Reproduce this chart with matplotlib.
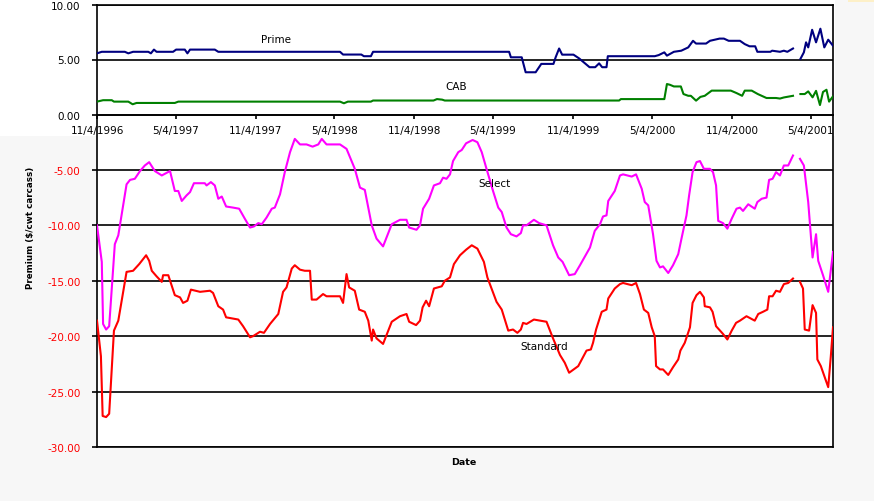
import numpy as np
import pandas as pd
import matplotlib
matplotlib.use("Agg")
import matplotlib.pyplot as plt
from matplotlib.patches import Rectangle

# ---------------- data ----------------
START = "1996-11-04"
END_DAY = 1693
tick_labels = ["11/4/1996", "5/4/1997", "11/4/1997", "5/4/1998", "11/4/1998",
               "5/4/1999", "11/4/1999", "5/4/2000", "11/4/2000", "5/4/2001"]

# days after 11/4/1996 ; nan marks the gap in the series
prime_days = [0, 11, 64, 72, 83, 118, 124, 131, 137, 175, 182, 202, 208, 214, 271, 279,
              559, 566, 608, 614, 630, 635, 948, 952, 977, 986, 1009, 1022, 1050, 1055,
              1063, 1070, 1096, 1109, 1133, 1146, 1155, 1162, 1172, 1175, 1283, 1292,
              1305, 1311, 1327, 1344, 1360, 1371, 1378, 1401, 1410, 1432, 1442, 1453,
              1479, 1490, 1501, 1514, 1519, 1549, 1553, 1571, 1580, 1588, 1601, 1608,
              1618, 1626, 1631, 1636, 1645, 1654, 1664, 1673, 1682, 1693]
prime_vals = [5.56, 5.7, 5.7, 5.56, 5.7, 5.7, 5.56, 5.9, 5.7, 5.7, 5.9, 5.9, 5.56, 5.9, 5.9, 5.7,
              5.7, 5.45, 5.45, 5.3, 5.3, 5.7, 5.7, 5.2, 5.2, 3.84, 3.84, 4.6, 4.6, 5.2,
              6.0, 5.44, 5.44, 5.1, 4.3, 4.3, 4.65, 4.3, 4.3, 5.3, 5.3, 5.4,
              5.65, 5.35, 5.7, 5.8, 6.1, 6.7, 6.45, 6.45, 6.7, 6.9, 6.9, 6.7,
              6.7, 6.4, 6.2, 6.2, 5.7, 5.7, 5.8, 5.7, 5.8, 5.7, 6.0, np.nan,
              5.05, 5.65, 6.56, 6.1, 7.7, 6.56, 7.8, 6.1, 6.8, 6.25]

cab_days = [0, 14, 34, 39, 72, 82, 91, 179, 187, 559, 568, 577, 630, 635, 774, 782, 794,
            800, 1201, 1205, 1305, 1311, 1318, 1327, 1343, 1349, 1360, 1366, 1378, 1388,
            1398, 1414, 1458, 1471, 1484, 1490, 1506, 1520, 1540, 1562, 1571, 1580, 1601,
            1608, 1618, 1628, 1636, 1646, 1654, 1663, 1670, 1678, 1684, 1693]
cab_vals = [1.17, 1.3, 1.3, 1.17, 1.17, 0.93, 1.05, 1.05, 1.17, 1.17, 1.02, 1.17, 1.17, 1.27,
            1.27, 1.4, 1.35, 1.27, 1.27, 1.4, 1.4, 2.77, 2.7, 2.55, 2.55, 1.86, 1.7, 1.7,
            1.26, 1.6, 1.7, 2.17, 2.17, 1.95, 1.7, 2.17, 2.17, 1.86, 1.5, 1.5, 1.45, 1.55,
            1.7, np.nan, 1.86, 1.86, 2.1, 1.56, 2.15, 0.86, 2.05, 2.25, 1.17, 1.65]

select_days = [0, 11, 14, 21, 28, 41, 49, 68, 76, 87, 99, 110, 120, 133, 149, 168, 179, 187,
               195, 206, 214, 223, 237, 248, 252, 262, 271, 279, 287, 297, 313, 327, 340,
               352, 361, 371, 379, 390, 402, 409, 421, 432, 444, 455, 467, 482, 496, 509,
               517, 528, 559, 574, 593, 605, 616, 632, 643, 658, 678, 697, 712, 718, 735,
               743, 750, 764, 775, 789, 796, 804, 812, 819, 831, 839, 849, 864, 875, 885,
               896, 911, 923, 931, 942, 952, 965, 975, 980, 988, 1005, 1017, 1034, 1049,
               1061, 1071, 1086, 1099, 1111, 1134, 1145, 1157, 1164, 1172, 1176, 1191,
               1203, 1210, 1230, 1240, 1253, 1260, 1268, 1279, 1287, 1295, 1302, 1314,
               1325, 1337, 1345, 1356, 1362, 1370, 1379, 1387, 1396, 1410, 1417, 1424,
               1429, 1440, 1450, 1460, 1471, 1479, 1486, 1498, 1513, 1519, 1529, 1540,
               1546, 1554, 1562, 1571, 1580, 1590, 1601, 1608, 1617, 1626, 1636, 1646,
               1654, 1659, 1670, 1682, 1693]
select_vals = [-10.0, -13.3, -18.9, -19.4, -19.1, -11.7, -10.9, -6.3, -5.9, -5.8, -5.1, -4.6,
               -4.3, -5.1, -5.5, -5.1, -6.9, -6.9, -7.8, -7.3, -7.0, -6.2, -6.2, -6.2, -6.4,
               -6.1, -6.4, -7.6, -7.4, -8.3, -8.4, -8.5, -9.4, -10.2, -10.1, -9.8, -9.9,
               -9.3, -8.5, -8.4, -7.2, -5.2, -3.4, -2.2, -2.7, -2.7, -2.9, -2.7, -2.2, -2.7,
               -2.7, -3.1, -4.9, -6.6, -6.8, -10.0, -11.2, -11.9, -9.9, -9.5, -9.5, -10.2,
               -10.4, -10.0, -8.5, -7.6, -6.4, -6.2, -5.7, -5.8, -5.4, -4.2, -3.4, -3.2,
               -2.6, -2.3, -2.5, -3.4, -4.9, -6.9, -8.4, -8.8, -10.2, -10.8, -11.0, -10.7,
               -10.0, -10.0, -9.5, -9.8, -10.0, -11.8, -12.9, -13.3, -14.5, -14.4, -13.6,
               -12.0, -10.5, -9.9, -9.2, -9.1, -7.8, -6.9, -5.5, -5.4, -5.6, -5.4, -6.7,
               -7.9, -8.2, -10.8, -13.2, -13.8, -13.7, -14.3, -13.6, -12.6, -11.1, -9.1,
               -7.3, -5.2, -4.3, -4.2, -4.9, -4.9, -5.2, -6.4, -9.6, -9.8, -10.3, -9.4,
               -8.5, -8.4, -8.7, -8.1, -8.5, -7.9, -7.6, -7.5, -5.9, -5.8, -5.2, -5.5,
               -4.6, -4.6, -3.7, np.nan, -4.0, -4.6, -7.9, -12.9, -10.8, -13.2, -14.5,
               -16.0, -12.4]

standard_days = [0, 9, 13, 21, 28, 39, 49, 68, 83, 97, 113, 120, 126, 137, 149, 152, 164, 179,
                 191, 198, 208, 216, 237, 260, 267, 279, 290, 297, 325, 336, 352, 359, 375,
                 384, 398, 417, 428, 436, 448, 455, 467, 478, 490, 494, 505, 520, 528, 559,
                 566, 574, 580, 593, 603, 616, 624, 632, 635, 643, 658, 678, 697, 712, 718,
                 734, 743, 749, 757, 764, 775, 793, 800, 812, 821, 835, 849, 862, 875, 890,
                 898, 919, 931, 946, 957, 967, 975, 980, 988, 1005, 1019, 1034, 1049, 1065,
                 1076, 1086, 1107, 1126, 1136, 1141, 1148, 1161, 1172, 1176, 1191, 1203,
                 1210, 1230, 1240, 1249, 1258, 1268, 1276, 1283, 1286, 1295, 1302, 1314,
                 1325, 1337, 1342, 1352, 1364, 1370, 1379, 1387, 1396, 1398, 1410, 1416,
                 1424, 1433, 1440, 1450, 1460, 1470, 1479, 1494, 1513, 1521, 1532, 1542,
                 1546, 1554, 1562, 1571, 1580, 1590, 1601, 1608, 1617, 1624, 1628, 1638,
                 1646, 1654, 1657, 1665, 1682, 1688, 1693]
standard_vals = [-18.6, -21.8, -27.2, -27.3, -27.0, -19.5, -18.6, -14.2, -14.1, -13.5, -12.7,
                 -13.2, -14.1, -14.6, -15.1, -14.5, -14.5, -16.3, -16.5, -17.0, -16.8, -15.8,
                 -16.0, -15.9, -16.1, -17.3, -17.6, -18.3, -18.5, -19.1, -20.1, -20.0, -19.6,
                 -19.7, -18.9, -18.0, -16.0, -15.6, -13.9, -13.6, -14.0, -14.1, -14.1, -16.7,
                 -16.7, -16.2, -16.4, -16.4, -17.0, -14.4, -15.6, -15.9, -17.6, -17.8, -18.6,
                 -20.4, -19.4, -20.2, -20.7, -18.7, -18.2, -18.0, -18.7, -19.0, -18.6, -17.4,
                 -16.8, -17.3, -15.7, -15.5, -15.0, -14.7, -13.5, -12.7, -12.2, -11.8, -12.1,
                 -13.3, -14.7, -16.9, -17.6, -19.5, -19.4, -19.7, -19.4, -18.8, -18.9, -18.5,
                 -18.6, -18.7, -20.2, -21.7, -22.4, -23.3, -22.7, -21.3, -21.2, -20.6, -19.4,
                 -17.8, -17.6, -16.6, -15.7, -15.3, -15.2, -15.4, -15.2, -16.2, -17.6, -17.9,
                 -19.2, -20.0, -22.7, -23.0, -23.0, -23.5, -22.8, -22.1, -21.3, -20.6, -19.2,
                 -17.0, -16.3, -16.0, -16.5, -17.3, -17.4, -17.8, -19.1, -19.5, -19.8, -20.3,
                 -19.5, -18.8, -18.6, -18.2, -18.6, -18.0, -17.8, -17.6, -16.4, -16.4, -15.9,
                 -16.0, -15.3, -15.2, -14.8, np.nan, -15.1, -15.7, -19.4, -19.5, -17.2, -17.9,
                 -22.1, -22.7, -24.6, -21.8, -19.2]

label_text = ["Prime", "CAB", "Select", "Standard"]
label_days = [412, 826, 915, 1028]
label_vals = [6.86, 2.56, -6.2, -20.9]

top_ticks = [0, 5, 10]
bottom_ticks = [-30, -25, -20, -15, -10, -5]

# ---------------- helpers ----------------
start = pd.Timestamp(START)


def to_dates(days):
    return start + pd.to_timedelta(np.asarray(days, dtype=float), unit="D")


tick_dates = pd.to_datetime(tick_labels, format="%m/%d/%Y")
xmin, xmax = start, start + pd.Timedelta(days=END_DAY)

W, H = 874, 502
FONT = "DejaVu Sans"
plt.rcParams["font.family"] = [FONT]

fig = plt.figure(figsize=(W / 100, H / 100), dpi=100, facecolor="#f7f7f7")

# white background of the upper chart picture
fig.patches.append(Rectangle((0, 1 - 137 / H), 835 / W, 137 / H, transform=fig.transFigure,
                             facecolor="white", edgecolor="none", zorder=-5))
# tiny yellow patch at top right
fig.patches.append(Rectangle((848 / W, 1 - 3 / H), 26 / W, 3 / H, transform=fig.transFigure,
                             facecolor="#fdf0c8", edgecolor="none", zorder=-5))

left = 97 / W
width = 736 / W
ax_b = fig.add_axes([left, 1 - 448 / H, width, 332.5 / H], zorder=1)
ax_t = fig.add_axes([left, 1 - 115.5 / H, width, 110 / H], zorder=2)

for ax in (ax_b, ax_t):
    ax.set_facecolor("white")
    ax.set_xlim(xmin, xmax)
    for s in ax.spines.values():
        s.set_color("black")
        s.set_linewidth(1.2)
    ax.yaxis.grid(True, color="black", linewidth=1.2)
    ax.set_axisbelow(True)

lw = 1.5
# bottom chart
ax_b.plot(to_dates(select_days), select_vals, color="#ff00ff", lw=lw, zorder=3)
ax_b.plot(to_dates(standard_days), standard_vals, color="#ff0000", lw=lw, zorder=3)
ax_b.set_ylim(-30, 0)
ax_b.set_yticks(bottom_ticks)
ax_b.set_yticklabels([f"{v:.2f}" for v in bottom_ticks], color="#ff0000", fontsize=7.5)
ax_b.tick_params(axis="y", direction="out", length=3.8, width=1.2, pad=8)
ax_b.set_xticks([])

# top chart
ax_t.plot(to_dates(prime_days), prime_vals, color="#000080", lw=lw, zorder=3)
ax_t.plot(to_dates(cab_days), cab_vals, color="#008000", lw=lw, zorder=3)
ax_t.set_ylim(0, 10)
ax_t.set_yticks(top_ticks)
ax_t.set_yticklabels([f"{v:.2f}" for v in top_ticks], color="black", fontsize=7.5)
ax_t.tick_params(axis="y", direction="out", length=3.8, width=1.2, pad=8)
ax_t.set_xticks(tick_dates)
ax_t.set_xticklabels(tick_labels, fontsize=7.5)
ax_t.tick_params(axis="x", direction="out", length=2.8, width=1.2, pad=5)

# series labels
for txt, d, v in zip(label_text, label_days, label_vals):
    ax = ax_t if v > 0 else ax_b
    ax.text(start + pd.Timedelta(days=d), v, txt, ha="center", va="center",
            fontsize=7.5, color="black", zorder=4)

fig.text(30 / W, 1 - 228 / H, "Premium ($/cwt carcass)", rotation=90, ha="center",
         va="center", fontsize=6.3, fontweight="bold")
fig.text(464 / W, 1 - 463 / H, "Date", ha="center", va="center", fontsize=6.8,
         fontweight="bold")

fig.savefig("out.png", dpi=100, facecolor=fig.get_facecolor())
